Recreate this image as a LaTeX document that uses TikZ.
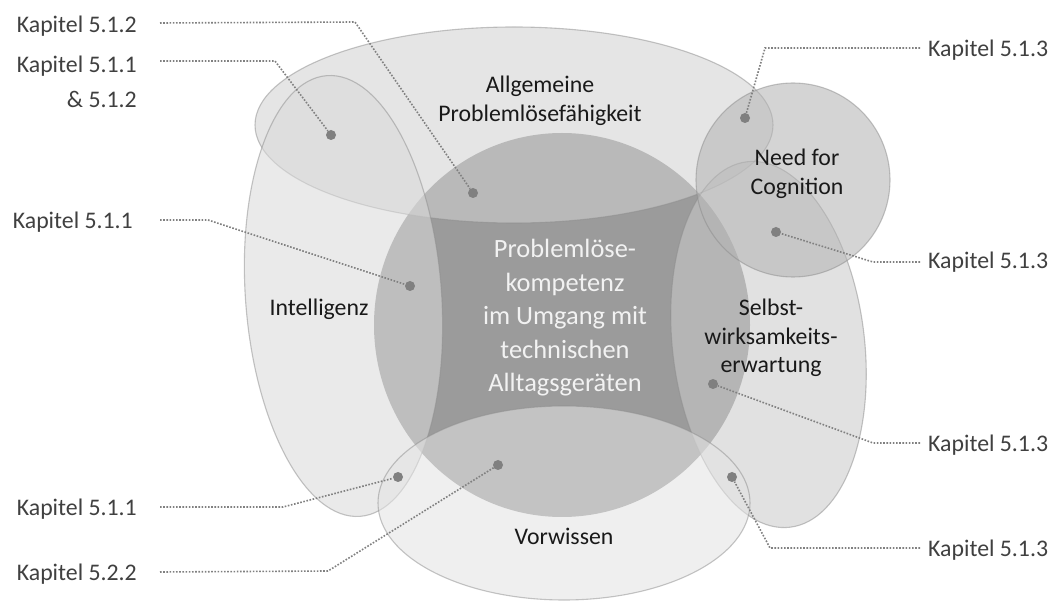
\documentclass[tikz,border=0pt]{standalone}
\usepackage{fontspec}
\setmainfont{Carlito}
\definecolor{corefill}{gray}{0.608}
\definecolor{allfill}{gray}{0.82}
\definecolor{intfill}{gray}{0.855}
\definecolor{needfill}{gray}{0.706}
\definecolor{selfill}{gray}{0.796}
\definecolor{vorfill}{gray}{0.894}
\definecolor{edge}{gray}{0.55}
\definecolor{ink}{gray}{0.1}
\definecolor{kapink}{gray}{0.25}
\definecolor{coretext}{gray}{0.95}
\definecolor{hubc}{gray}{0.5}
\begin{document}
\begin{tikzpicture}[x=1pt,y=-1pt,
  setshape/.style={fill opacity=0.56, draw=edge, draw opacity=0.5, line width=1.1pt},
  inlabel/.style={font=\fontsize{23.8}{28.5}\selectfont, text=ink, align=center, inner sep=0pt},
  kap/.style={font=\fontsize{23.8}{35}\selectfont, text=kapink, inner sep=0pt},
  core/.style={font=\fontsize{26.4}{33.5}\selectfont, text=coretext, align=center, inner sep=0pt},
  hub/.style={circle, fill=hubc, minimum size=10pt, inner sep=0pt},
  lead/.style={draw=hubc, line width=1.6pt, dash pattern=on 1.6pt off 1.6pt}]
\useasboundingbox (0,0) rectangle (1053,601);
\fill[white] (0,0) rectangle (1053,601);

% central competence circle
\fill[corefill] (562,325) ellipse [x radius=188pt, y radius=192pt];

% surrounding constructs
\path[setshape, fill=allfill] (514,125) ellipse [x radius=259pt, y radius=98pt];
\path[setshape, fill=intfill, rotate around={4.3:(343.5,296)}] (343.5,296) ellipse [x radius=98pt, y radius=221pt];
\path[setshape, fill=selfill, rotate around={6.7:(768.5,344.5)}] (768.5,344.5) ellipse [x radius=96pt, y radius=184pt];
\path[setshape, fill=vorfill] (564,503) ellipse [x radius=186pt, y radius=97pt];
\path[setshape, fill=needfill] (793,180) circle [radius=97pt];

% construct labels
\node[core] (core) at (565,318) {Problemlöse-\\kompetenz\\im Umgang mit\\technischen\\Alltagsgeräten};
\node[inlabel] (lall) at (540,101) {Allgemeine\\Problemlösefähigkeit};
\node[inlabel] (lint) at (319,309) {Intelligenz};
\node[inlabel] (lneed) at (797,174) {Need for\\Cognition};
\node[inlabel] (lsel) at (771,338) {Selbst-\\wirksamkeits-\\erwartung};
\node[inlabel] (lvor) at (564,536) {Vorwissen};

% chapter references
\node[kap, anchor=east] (k1) at (137,26) {Kapitel 5.1.2};
\node[kap, anchor=east, align=right] (k2) at (137,82) {Kapitel 5.1.1\\\& 5.1.2};
\node[kap, anchor=east] (k3) at (133,222) {Kapitel 5.1.1};
\node[kap, anchor=east] (k4) at (137,509) {Kapitel 5.1.1};
\node[kap, anchor=east] (k5) at (137,574) {Kapitel 5.2.2};
\node[kap, anchor=west] (r1) at (928,50) {Kapitel 5.1.3};
\node[kap, anchor=west] (r2) at (928,262) {Kapitel 5.1.3};
\node[kap, anchor=west] (r3) at (928,445) {Kapitel 5.1.3};
\node[kap, anchor=west] (r4) at (928,550) {Kapitel 5.1.3};

% reference points
\node[hub] (d1) at (473,193) {};
\node[hub] (d2) at (331,135) {};
\node[hub] (d3) at (410,286) {};
\node[hub] (d4) at (398,477) {};
\node[hub] (d5) at (498,465) {};
\node[hub] (e1) at (745,118) {};
\node[hub] (e2) at (776,232) {};
\node[hub] (e3) at (713,384) {};
\node[hub] (e4) at (732,477) {};

% bends of the leader lines
\coordinate (b1) at (355,22);
\coordinate (b2) at (275,61);
\coordinate (b3) at (208,220);
\coordinate (b4) at (283,507);
\coordinate (b5) at (328,571);
\coordinate (c1) at (765,48);
\coordinate (c2) at (873,262);
\coordinate (c3) at (873,443);
\coordinate (c4) at (770,548);

% leader lines
\draw[lead] ([shift={(23pt,3pt)}]k1.east) -- (b1) -- (d1);
\draw[lead] (160,61) -- (b2) -- (d2);
\draw[lead] ([shift={(27pt,2pt)}]k3.east) -- (b3) -- (d3);
\draw[lead] ([shift={(23pt,2pt)}]k4.east) -- (b4) -- (d4);
\draw[lead] ([shift={(23pt,2pt)}]k5.east) -- (b5) -- (d5);
\draw[lead] ([shift={(-8pt,2pt)}]r1.west) -- (c1) -- (e1);
\draw[lead] ([shift={(-8pt,0pt)}]r2.west) -- (c2) -- (e2);
\draw[lead] ([shift={(-8pt,2pt)}]r3.west) -- (c3) -- (e3);
\draw[lead] ([shift={(-8pt,2pt)}]r4.west) -- (c4) -- (e4);
\end{tikzpicture}
\end{document}
